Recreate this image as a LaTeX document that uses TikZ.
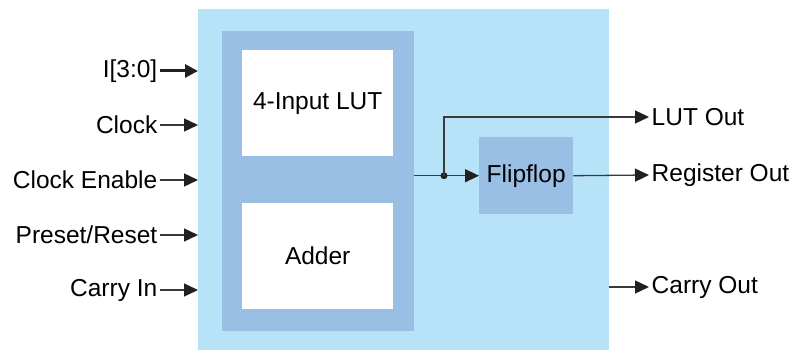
\documentclass[tikz,border=0pt]{standalone}
\usepackage{fontspec}
\setmainfont{Liberation Sans}
\usetikzlibrary{arrows.meta}
\definecolor{outerblue}{HTML}{B7E3F8}
\definecolor{innerblue}{HTML}{99BFE5}
\definecolor{linegray}{HTML}{3A3A3A}
\definecolor{tipblack}{HTML}{231F20}
\begin{document}
\begin{tikzpicture}[x=1pt,y=-1pt,
  lbl/.style={inner sep=2.5pt,font=\fontsize{24.5}{28}\selectfont,text=black},
  box/.style={inner sep=0pt,font=\fontsize{24.5}{28}\selectfont},
  sig/.style={draw=linegray,line width=1.3pt,-{Triangle[length=14pt,width=13pt,fill=tipblack,color=tipblack]}},
  bus/.style={draw=tipblack,line width=3pt,-{Triangle[length=13pt,width=13pt,fill=tipblack,color=tipblack]}},
  wire/.style={draw=linegray,line width=1.3pt}]
\useasboundingbox (0,0) rectangle (794,350);
% blocks
\node[box,fill=outerblue,minimum width=411pt,minimum height=341pt,anchor=north west] (outer) at (198,9) {};
\node[box,fill=innerblue,minimum width=192pt,minimum height=300pt,anchor=north west] (inner) at (222,31) {};
\node[box,fill=white,minimum width=151pt,minimum height=106pt,anchor=north west] (lut) at (242,50) {};
\node[box] at (lut.center) {4-Input LUT};
\node[box,fill=white,minimum width=151pt,minimum height=106pt,anchor=north west] (adder) at (242,203) {};
\node[box] at (adder.center) {Adder};
\node[box,fill=innerblue,minimum width=94pt,minimum height=77pt,anchor=north west] (ff) at (479,137) {Flipflop};
% input labels
\node[lbl,anchor=east] (inI) at (160,71) {I[3:0]};
\node[lbl,anchor=east] (inClk) at (160,125) {Clock};
\node[lbl,anchor=east] (inCe) at (160,180) {Clock Enable};
\node[lbl,anchor=east] (inPr) at (160,235) {Preset/Reset};
\node[lbl,anchor=east] (inCi) at (160,290) {Carry In};
\draw[bus] (inI.east) -- (inI.east -| outer.west);
\draw[sig] (inClk.east) -- (inClk.east -| outer.west);
\draw[sig] (inCe.east) -- (inCe.east -| outer.west);
\draw[sig] (inPr.east) -- (inPr.east -| outer.west);
\draw[sig] (inCi.east) -- (inCi.east -| outer.west);
% output labels
\node[lbl,anchor=west] (oLut) at (649,117) {LUT Out};
\node[lbl,anchor=west] (oReg) at (649,175) {Register Out};
\node[lbl,anchor=west] (oCar) at (649,287) {Carry Out};
% internal connections
\coordinate (src) at (ff.west -| inner.east);
\coordinate (j) at (444,0 |- ff.west);
\draw[wire] (src) -- (j);
\draw[sig] (j) -- (ff.west);
\fill[tipblack] (j) circle (3.5pt);
\draw[sig] (j) |- (oLut.west);
\draw[sig] (ff.east) -- (oReg.west);
\draw[sig] (oCar.west -| outer.east) -- (oCar.west);
\end{tikzpicture}
\end{document}
